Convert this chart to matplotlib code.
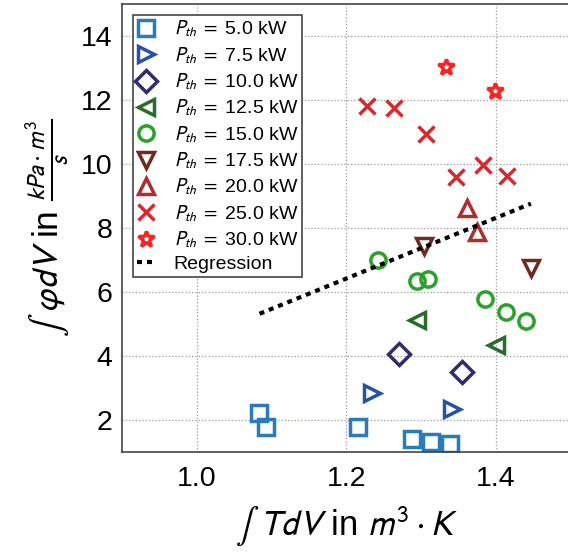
import matplotlib
matplotlib.use("Agg")
import matplotlib.pyplot as plt

plt.rcParams['font.family'] = ['Liberation Sans', 'DejaVu Sans']
plt.rcParams['mathtext.fontset'] = 'stixsans'

# Thermal power levels and the measured (integral T dV, integral phi dV) pairs
power_kw = [5.0, 7.5, 10.0, 12.5, 15.0, 17.5, 20.0, 25.0, 30.0]

x_5_0 = [1.083, 1.092, 1.216, 1.288, 1.314, 1.339]
y_5_0 = [2.22, 1.77, 1.77, 1.42, 1.31, 1.25]

x_7_5 = [1.235, 1.341]
y_7_5 = [2.84, 2.34]

x_10_0 = [1.270, 1.355]
y_10_0 = [4.06, 3.50]

x_12_5 = [1.294, 1.401]
y_12_5 = [5.13, 4.33]

x_15_0 = [1.242, 1.294, 1.309, 1.385, 1.414, 1.441]
y_15_0 = [7.01, 6.33, 6.41, 5.78, 5.36, 5.10]

x_17_5 = [1.304, 1.447]
y_17_5 = [7.45, 6.75]

x_20_0 = [1.362, 1.375]
y_20_0 = [8.62, 7.86]

x_25_0 = [1.228, 1.264, 1.307, 1.347, 1.383, 1.415]
y_25_0 = [11.80, 11.75, 10.94, 9.58, 9.98, 9.61]

x_30_0 = [1.333, 1.399]
y_30_0 = [13.03, 12.29]

x_regression = [1.084, 1.447]
y_regression = [5.32, 8.76]

series = [
    (x_5_0, y_5_0, 's', '#2b7bba', 12),
    (x_7_5, y_7_5, '>', '#2a50a6', 12),
    (x_10_0, y_10_0, 'D', '#302c6e', 11),
    (x_12_5, y_12_5, '<', '#2a6b2a', 12),
    (x_15_0, y_15_0, 'o', '#2ca02c', 11),
    (x_17_5, y_17_5, 'v', '#6b2c24', 12),
    (x_20_0, y_20_0, '^', '#a8302e', 12),
    (x_25_0, y_25_0, 'x', '#d42a2e', 11),
    (x_30_0, y_30_0, '*', '#ff2222', 12),
]

fig = plt.figure(figsize=(5.68, 5.55), dpi=100)
ax = fig.add_axes([122 / 568, 103 / 555, 448.5 / 568, 448 / 555])

for (xs, ys, marker, color, ms), p in zip(series, power_kw):
    ax.plot(xs, ys, linestyle='none', marker=marker, markersize=ms,
            markerfacecolor='none', markeredgecolor=color,
            markeredgewidth=2.5, label=r'$P_{th}\ =$ ' + f'{p:.1f} kW')

ax.plot(x_regression, y_regression, linestyle=(0, (1.2, 1.2)), color='black',
        linewidth=3, label='Regression')

ax.set_xlim(0.9, 1.5)
ax.set_ylim(1, 15)
ax.set_xticks([1.0, 1.2, 1.4])
ax.set_yticks([2, 4, 6, 8, 10, 12, 14])
ax.tick_params(length=0, labelsize=20.5)
ax.tick_params(axis='x', pad=10)
ax.tick_params(axis='y', pad=7)
ax.grid(True, linestyle=':', color='#999999', linewidth=0.9)
for s in ax.spines.values():
    s.set_color('#444444')
    s.set_linewidth(1.2)

ax.set_xlabel(r'$\int\ TdV$ in $m^3\cdot K$', fontsize=25, labelpad=9)
ax.set_ylabel(r'$\int\ \varphi dV$ in $\frac{kPa\cdot m^3}{s}$', fontsize=25.5, labelpad=6)

leg = ax.legend(loc='upper left', fontsize=14, fancybox=False,
                edgecolor='#444444', framealpha=1, handlelength=1.0,
                handletextpad=0.9, borderpad=0.2, labelspacing=0.29,
                borderaxespad=0, bbox_to_anchor=(0.024, 0.976))
leg.get_frame().set_linewidth(1.2)

fig.savefig('out.png', dpi=100)
